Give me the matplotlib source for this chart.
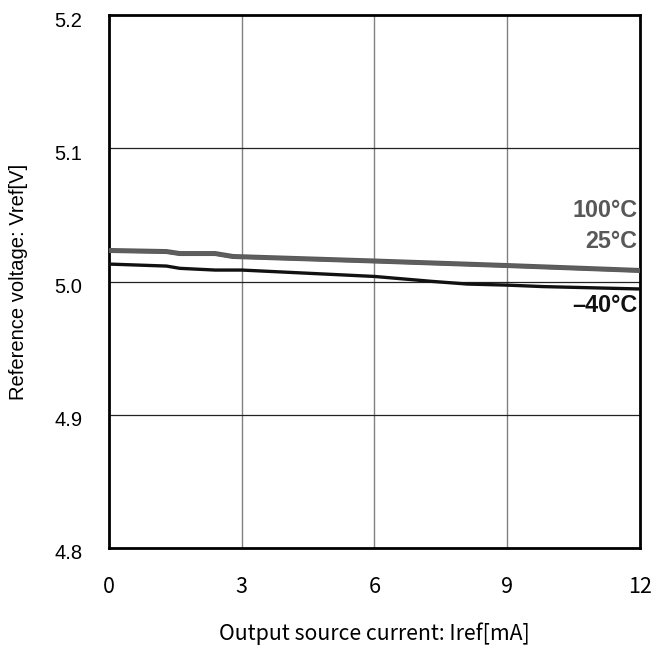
import matplotlib
matplotlib.use("Agg")
import matplotlib.pyplot as plt
from matplotlib.transforms import ScaledTranslation

# Output source current [mA]
current_hot = [0, 1.3, 1.6, 2.4, 2.8, 6, 9, 12]
vref_100 = [5.0233, 5.0225, 5.0210, 5.0210, 5.0188, 5.0154, 5.0120, 5.0083]
vref_25 = [5.0231, 5.0223, 5.0208, 5.0208, 5.0186, 5.0152, 5.0118, 5.0081]

current_cold = [0, 1.3, 1.6, 2.4, 3, 6, 7.3, 8.1, 9, 9.8, 12]
vref_m40 = [5.0131, 5.0116, 5.0099, 5.0086, 5.0086, 5.0038, 5.0001, 4.9981,
            4.9973, 4.9962, 4.9944]

xticks = [0, 3, 6, 9, 12]
yticks = [4.8, 4.9, 5.0, 5.1, 5.2]
ytick_labels = ["4.8", "4.9", "5.0", "5.1", "5.2"]

sans = ["Liberation Sans", "DejaVu Sans"]
jp = ["Noto Sans CJK JP", "DejaVu Sans"]

fig = plt.figure(figsize=(6.51, 6.55), dpi=100)
ax = fig.add_axes([0.1674, 0.1634, 0.8156, 0.8136])

ax.plot(current_hot, vref_100, color="#585858", lw=3.6, solid_capstyle="butt", zorder=3)
ax.plot(current_hot, vref_25, color="#5e5e5e", lw=2.6, solid_capstyle="butt", zorder=3)
ax.plot(current_cold, vref_m40, color="#111111", lw=2.4, solid_capstyle="butt", zorder=3)

ax.set_xlim(0, 12)
ax.set_ylim(4.8, 5.2)
ax.set_xticks(xticks)
ax.set_yticks(yticks)
ax.set_yticklabels(ytick_labels)

for x in xticks[1:-1]:
    ax.axvline(x, color="#808080", lw=1.0, zorder=1)
for y in yticks[1:-1]:
    ax.axhline(y, color="#222222", lw=0.9, zorder=1)

for s in ax.spines.values():
    s.set_linewidth(2.0)
    s.set_color("black")

ax.tick_params(length=0)
ax.tick_params(axis="y", pad=19)
ax.tick_params(axis="x", pad=20)
shift_down = ScaledTranslation(0, -4 / 100, fig.dpi_scale_trans)
for lab in ax.get_yticklabels():
    lab.set_family(sans)
    lab.set_fontsize(14.5)
    lab.set_transform(lab.get_transform() + shift_down)
for lab in ax.get_xticklabels():
    lab.set_family(jp)
    lab.set_fontsize(15.5)

ax.set_xlabel("Output source current: Iref[mA]", family=jp, fontsize=15.3, labelpad=18)
ax.set_ylabel("Reference voltage: Vref[V]", family=sans, fontsize=14.5, labelpad=19)

ax.text(11.95, 5.0530, "100°C", ha="right", va="center", fontsize=16.8, fontweight="bold",
        color="#585858", family=sans)
ax.text(11.95, 5.0297, "25°C", ha="right", va="center", fontsize=16.8, fontweight="bold",
        color="#585858", family=sans)
ax.text(11.95, 4.9820, "\u201340°C", ha="right", va="center", fontsize=16.8, fontweight="bold",
        color="#111111", family=sans)

fig.savefig("out.png", dpi=100)
